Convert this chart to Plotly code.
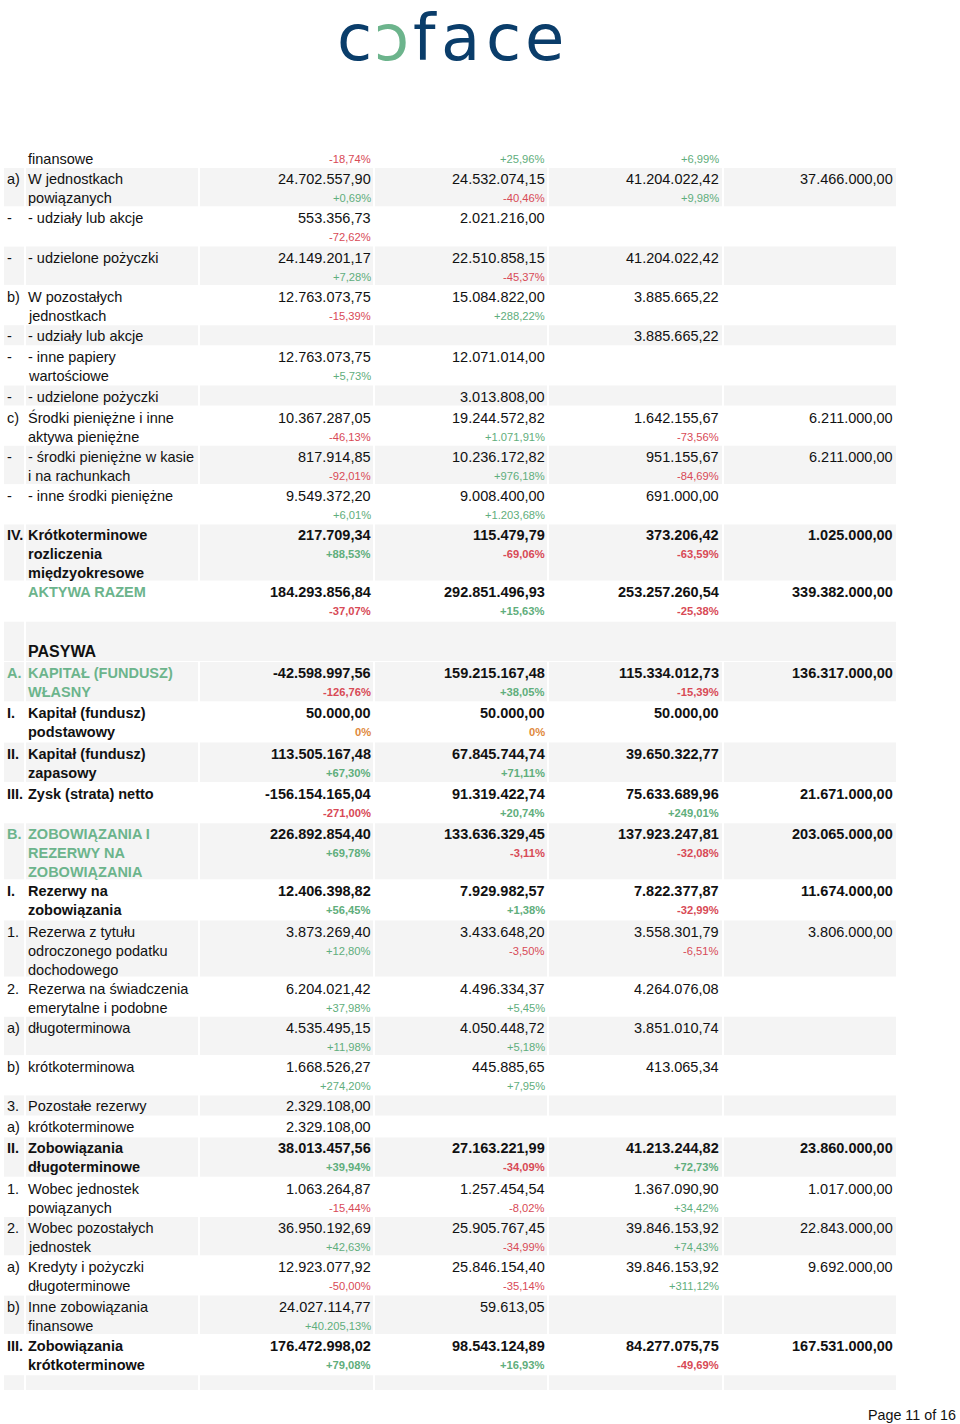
import plotly.graph_objects as go

########################### données du bilan (page 11) ###########################

numery = ["", "a)", "-", "-", "b)", "-", "-", "-", "c)", "-", "-", "IV.", "", "",
          "A.", "I.", "II.", "III.", "B.", "I.", "1.", "2.", "a)", "b)", "3.", "a)",
          "II.", "1.", "2.", "a)", "b)", "III."]

pozycje = [
    "\nfinansowe",
    "W jednostkach\npowiązanych",
    "- udziały lub akcje",
    "- udzielone pożyczki",
    "W pozostałych\njednostkach",
    "- udziały lub akcje",
    "- inne papiery\nwartościowe",
    "- udzielone pożyczki",
    "Środki pieniężne i inne\naktywa pieniężne",
    "- środki pieniężne w kasie\ni na rachunkach",
    "- inne środki pieniężne",
    "Krótkoterminowe\nrozliczenia\nmiędzyokresowe",
    "AKTYWA RAZEM",
    "\nPASYWA",
    "KAPITAŁ (FUNDUSZ)\nWŁASNY",
    "Kapitał (fundusz)\npodstawowy",
    "Kapitał (fundusz)\nzapasowy",
    "Zysk (strata) netto",
    "ZOBOWIĄZANIA I\nREZERWY NA\nZOBOWIĄZANIA",
    "Rezerwy na\nzobowiązania",
    "Rezerwa z tytułu\nodroczonego podatku\ndochodowego",
    "Rezerwa na świadczenia\nemerytalne i podobne",
    "długoterminowa",
    "krótkoterminowa",
    "Pozostałe rezerwy",
    "krótkoterminowe",
    "Zobowiązania\ndługoterminowe",
    "Wobec jednostek\npowiązanych",
    "Wobec pozostałych\njednostek",
    "Kredyty i pożyczki\ndługoterminowe",
    "Inne zobowiązania\nfinansowe",
    "Zobowiązania\nkrótkoterminowe",
]

kol1 = [None, 24702557.90, 553356.73, 24149201.17, 12763073.75, None, 12763073.75, None,
        10367287.05, 817914.85, 9549372.20, 217709.34, 184293856.84, None,
        -42598997.56, 50000.00, 113505167.48, -156154165.04, 226892854.40, 12406398.82,
        3873269.40, 6204021.42, 4535495.15, 1668526.27, 2329108.00, 2329108.00,
        38013457.56, 1063264.87, 36950192.69, 12923077.92, 24027114.77, 176472998.02]
kol2 = [None, 24532074.15, 2021216.00, 22510858.15, 15084822.00, None, 12071014.00, 3013808.00,
        19244572.82, 10236172.82, 9008400.00, 115479.79, 292851496.93, None,
        159215167.48, 50000.00, 67845744.74, 91319422.74, 133636329.45, 7929982.57,
        3433648.20, 4496334.37, 4050448.72, 445885.65, None, None,
        27163221.99, 1257454.54, 25905767.45, 25846154.40, 59613.05, 98543124.89]
kol3 = [None, 41204022.42, None, 41204022.42, 3885665.22, 3885665.22, None, None,
        1642155.67, 951155.67, 691000.00, 373206.42, 253257260.54, None,
        115334012.73, 50000.00, 39650322.77, 75633689.96, 137923247.81, 7822377.87,
        3558301.79, 4264076.08, 3851010.74, 413065.34, None, None,
        41213244.82, 1367090.90, 39846153.92, 39846153.92, None, 84277075.75]
kol4 = [None, 37466000.00, None, None, None, None, None, None,
        6211000.00, 6211000.00, None, 1025000.00, 339382000.00, None,
        136317000.00, None, None, 21671000.00, 203065000.00, 11674000.00,
        3806000.00, None, None, None, None, None,
        23860000.00, 1017000.00, 22843000.00, 9692000.00, None, 167531000.00]

# zmiana procentowa pod każdą wartością
zm1 = [-18.74, 0.69, -72.62, 7.28, -15.39, None, 5.73, None,
       -46.13, -92.01, 6.01, 88.53, -37.07, None,
       -126.76, 0, 67.30, -271.00, 69.78, 56.45,
       12.80, 37.98, 11.98, 274.20, None, None,
       39.94, -15.44, 42.63, -50.00, 40205.13, 79.08]
zm2 = [25.96, -40.46, None, -45.37, 288.22, None, None, None,
       1071.91, 976.18, 1203.68, -69.06, 15.63, None,
       38.05, 0, 71.11, 20.74, -3.11, 1.38,
       -3.50, 5.45, 5.18, 7.95, None, None,
       -34.09, -8.02, -34.99, -35.14, None, 16.93]
zm3 = [6.99, 9.98, None, None, None, None, None, None,
       -73.56, -84.69, None, -63.59, -25.38, None,
       -15.39, None, None, 249.01, -32.08, -32.99,
       -6.51, None, None, None, None, None,
       72.73, 34.42, 74.43, 311.12, None, -49.69]

########################### mise en forme ###########################

WIERSZE_POGRUBIONE = {11, 12, 13, 14, 15, 16, 17, 18, 19, 26, 31}
WIERSZE_ZIELONE = {12, 14, 18}
WIERSZ_PASYWA = 13
START_PASYWA = 14

ZIELONY = "#6cb48c"
ZIELONY_PCT = "#5fae7c"
CZERWONY = "#d84a56"
POMARANCZ = "#e0893c"
SZARY = "#f4f4f4"
GRANAT = "#0a3d6a"
FONT = "Liberation Sans, Arial, sans-serif"

W, H = 960, 1424
ROW_H = {1: 21.0, 2: 39.3, 3: 57.0}
BOLD_EXTRA = 1.0
TABLE_TOP = 128.7
PAGE_BOTTOM = 1390
CELL_X = [(4, 24), (26, 198), (200, 373), (375, 547), (549, 722), (724, 896)]
VALUE_RIGHT = [372, 546, 720, 894]
NUM_X, LABEL_X = 6, 27

LOGO = [("c", 354, GRANAT), ("ɔ", 391, ZIELONY), ("f", 425, GRANAT),
        ("a", 460, GRANAT), ("c", 503, GRANAT), ("e", 544, GRANAT)]


def fmt_num(v):
    s = f"{abs(v):,.2f}".replace(",", " ").replace(".", ",").replace(" ", ".")
    return ("-" if v < 0 else "") + s


def fmt_pct(p):
    if p == 0:
        return "0%"
    s = f"{abs(p):,.2f}".replace(",", " ").replace(".", ",").replace(" ", ".")
    return ("+" if p > 0 else "-") + s + "%"


def kolor_pct(p):
    if p == 0:
        return POMARANCZ
    return ZIELONY_PCT if p > 0 else CZERWONY


wartosci = list(zip(kol1, kol2, kol3, kol4))
zmiany = list(zip(zm1, zm2, zm3))

fig = go.Figure()
fig.add_trace(go.Scatter(x=[0, W], y=[0, H], mode="markers",
                         marker=dict(opacity=0), hoverinfo="skip"))

shapes = []
annotations = []


def cell(x0, x1, y0, y1):
    shapes.append(dict(type="rect", xref="x", yref="y", x0=x0, x1=x1, y0=y0, y1=y1,
                       fillcolor=SZARY, line=dict(width=0), layer="below"))


def txt(x, y, s, size=14.5, color="#111", bold=False, anchor="left", family=FONT):
    annotations.append(dict(x=x, y=y, xref="x", yref="y", text=s, showarrow=False,
                            xanchor=anchor, yanchor="middle", borderpad=0,
                            font=dict(family=family, size=size, color=color,
                                      weight="bold" if bold else "normal")))


top = TABLE_TOP
for i, (nr, poz) in enumerate(zip(numery, pozycje)):
    linie = poz.split("\n")
    ma_pct = any(p is not None for p in zmiany[i])
    n = max(len(linie), 2 if ma_pct else 1)
    bold = i in WIERSZE_POGRUBIONE
    h = ROW_H[n] + (BOLD_EXTRA if bold and n == 2 else 0)

    # fond gris alterné (section aktywa / pasywa)
    start = START_PASYWA if i >= START_PASYWA else 1
    if i == WIERSZ_PASYWA:
        cell(CELL_X[0][0], CELL_X[0][1], top, top + h - 1)
        cell(CELL_X[1][0], CELL_X[-1][1], top, top + h - 1)
    elif (i - start) % 2 == 0:
        for x0, x1 in CELL_X:
            cell(x0, x1, top, top + h - 1)

    kol_lab = ZIELONY if i in WIERSZE_ZIELONE else "#111"
    if nr:
        txt(NUM_X, top + 11, nr, color=kol_lab, bold=bold)
    for k, linia in enumerate(linie):
        if linia:
            size = 16 if i == WIERSZ_PASYWA else 14.5
            txt(LABEL_X, top + 11 + 19 * k, linia, size=size, color=kol_lab, bold=bold)

    for j, v in enumerate(wartosci[i]):
        if v is not None:
            txt(VALUE_RIGHT[j], top + 11, fmt_num(v), bold=bold, anchor="right")
    for j, p in enumerate(zmiany[i]):
        if p is not None:
            txt(VALUE_RIGHT[j], top + 30, fmt_pct(p), size=11.2, color=kolor_pct(p),
                bold=bold, anchor="right")
    top += h

# début de la ligne suivante, coupée en bas de page
for x0, x1 in CELL_X:
    cell(x0, x1, top, PAGE_BOTTOM)

# logo coface, lettre par lettre
for lettre, x, kol in LOGO:
    txt(x, 38, lettre, size=64, color=kol, anchor="center", family="DejaVu Sans")

# pied de page
txt(957, 1415, "Page 11 of 16", size=14.3, color="#111", anchor="right")

fig.update_layout(
    width=W, height=H,
    margin=dict(l=0, r=0, t=0, b=0),
    paper_bgcolor="white", plot_bgcolor="white",
    showlegend=False,
    shapes=shapes, annotations=annotations,
    xaxis=dict(range=[0, W], visible=False, fixedrange=True),
    yaxis=dict(range=[H, 0], visible=False, fixedrange=True),
)

# la page html a une marge par defaut de 8px : on la retire
fig.write_html("out.html", config={"displayModeBar": False},
               post_script="document.body.style.margin='0';"
                           "document.body.style.overflow='hidden';")
